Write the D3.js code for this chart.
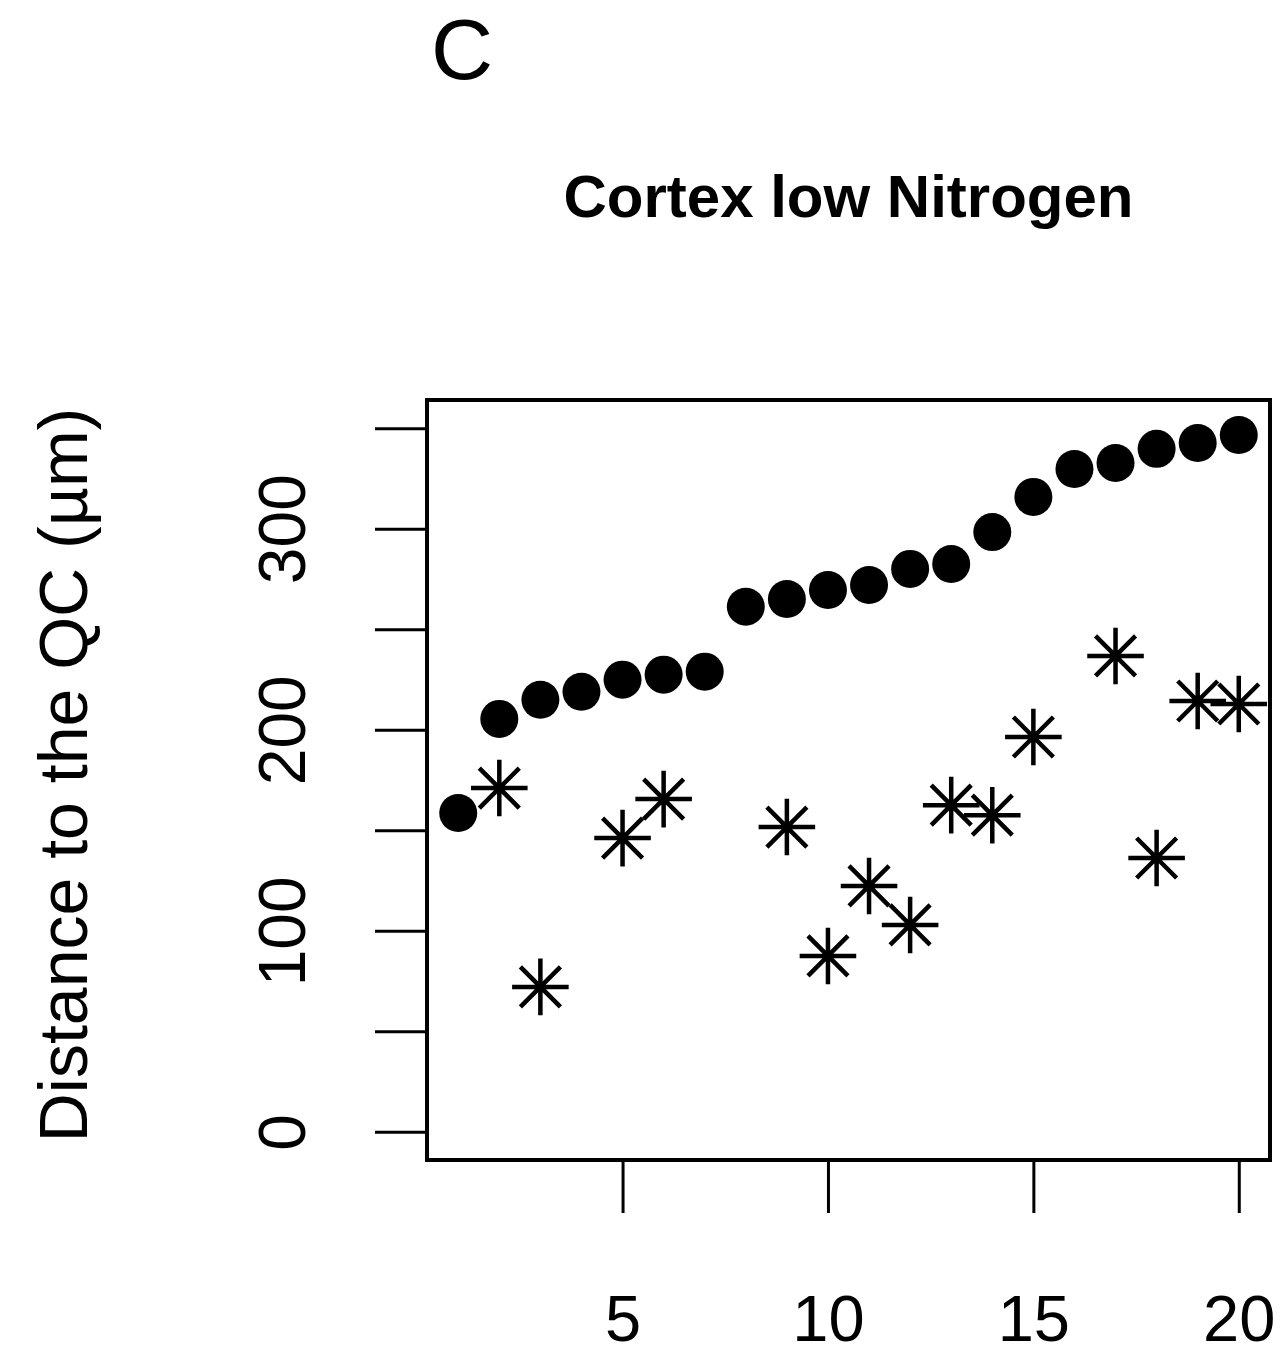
<!DOCTYPE html>
<html>
<head>
<meta charset="utf-8">
<script src="https://cdn.jsdelivr.net/npm/d3@7"></script>
<style>
  body { margin: 0; background: #fff; }
  text { font-family: "Liberation Sans", Arial, sans-serif; fill: #000; }
</style>
</head>
<body>
<svg id="cortexPlot" width="1284" height="1355"></svg>
<script>
// cell index along the cortex file
const cells = d3.range(1, 21);
// filled circles (pch 19)
const dist_dots = [158.6, 205.4, 214.9, 218.9, 224.9, 227.4, 228.9, 261.2, 265.0, 269.5,
                   272.0, 280.0, 282.4, 298.3, 315.8, 329.7, 332.7, 339.7, 342.6, 346.6];
// asterisks (pch 8), null = not measured
const dist_stars = [null, 171.0, 72.1, null, 146.1, 165.5, null, null, 151.6, 87.5,
                    122.3, 102.9, 162.5, 157.5, 196.4, null, 236.7, 136.2, 214.3, 212.8];
const y_ticks = [0, 50, 100, 150, 200, 250, 300, 350];
const x_ticks = [5, 10, 15, 20];

const svg = d3.select("#cortexPlot");

// plot region (R style box)
const box = { left: 427, top: 400, right: 1270, bottom: 1160 };

const x_scale = d3.scaleLinear().domain([0.24, 20.76]).range([box.left, box.right]);
const y_scale = d3.scaleLinear().domain([-14, 364]).range([box.bottom, box.top]);

// panel letter
svg.append("text")
    .attr("x", 431)
    .attr("y", 79)
    .style("font-size", "86px")
    .text("C");

// title
svg.append("text")
    .attr("x", (box.left + box.right) / 2)
    .attr("y", 217)
    .attr("text-anchor", "middle")
    .style("font-size", "60px")
    .style("font-weight", "bold")
    .text("Cortex low Nitrogen");

// y axis
const yAxis = svg.append("g")
    .attr("transform", `translate(${box.left}, 0)`)
    .call(d3.axisLeft(y_scale)
        .tickValues(y_ticks)
        .tickSize(52)
        .tickFormat((d) => (d % 100 === 0 ? d : "")));
yAxis.select(".domain").remove();
yAxis.selectAll("line").attr("stroke", "#000").attr("stroke-width", 3);
yAxis.selectAll("text")
    .attr("x", null)
    .attr("dy", null)
    .attr("text-anchor", "middle")
    .attr("fill", "#000")
    .attr("transform", "translate(-122, 0) rotate(-90)")
    .style("font-size", "66px")
    .style("font-family", '"Liberation Sans", Arial, sans-serif');

// x axis
const xAxis = svg.append("g")
    .attr("transform", `translate(0, ${box.bottom})`)
    .call(d3.axisBottom(x_scale).tickValues(x_ticks).tickSize(53));
xAxis.select(".domain").remove();
xAxis.selectAll("line").attr("stroke", "#000").attr("stroke-width", 3);
xAxis.selectAll("text")
    .attr("y", 181)
    .attr("dy", null)
    .attr("fill", "#000")
    .style("font-size", "65px")
    .style("font-family", '"Liberation Sans", Arial, sans-serif');

// y label
svg.append("text")
    .attr("transform", `translate(87, ${(box.top + box.bottom) / 2 - 5}) rotate(-90)`)
    .attr("text-anchor", "middle")
    .style("font-size", "68px")
    .text("Distance to the QC (µm)");

// points
const dots = cells.map((c, i) => ({ x: c, v: dist_dots[i] }));
const stars = cells
    .map((c, i) => ({ x: c, v: dist_stars[i] }))
    .filter((d) => d.v !== null);

svg.append("g")
    .selectAll("circle")
    .data(dots)
    .enter()
    .append("circle")
    .attr("cx", (d) => x_scale(d.x))
    .attr("cy", (d) => y_scale(d.v))
    .attr("r", 19)
    .attr("fill", "#000");

// asterisk = plus + cross
const s = 20;
const p = s * Math.SQRT2;
const starPath = `M${-p},0L${p},0M0,${-p}L0,${p}M${-s},${-s}L${s},${s}M${-s},${s}L${s},${-s}`;
svg.append("g")
    .selectAll("path")
    .data(stars)
    .enter()
    .append("path")
    .attr("transform", (d) => `translate(${x_scale(d.x)}, ${y_scale(d.v)})`)
    .attr("d", starPath)
    .attr("fill", "none")
    .attr("stroke", "#000")
    .attr("stroke-width", 4.5);

// box
svg.append("rect")
    .attr("x", box.left)
    .attr("y", box.top)
    .attr("width", box.right - box.left)
    .attr("height", box.bottom - box.top)
    .attr("fill", "none")
    .attr("stroke", "#000")
    .attr("stroke-width", 4);
</script>
</body>
</html>
